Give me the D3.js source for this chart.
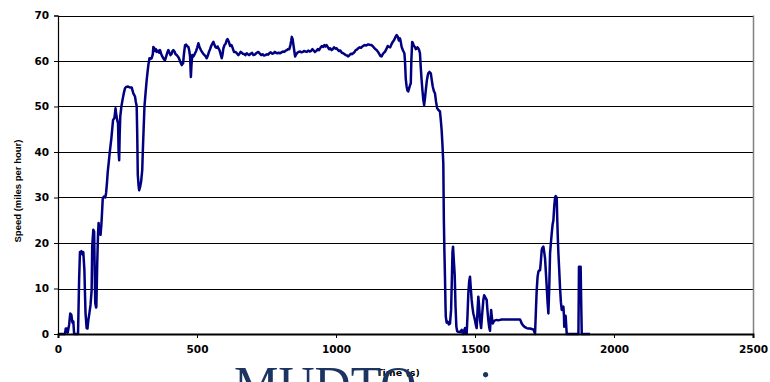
<!DOCTYPE html>
<html>
<head>
<meta charset="utf-8">
<script src="https://cdn.jsdelivr.net/npm/d3@7"></script>
<style>
  html, body { margin: 0; padding: 0; background: #fff; }
  svg { display: block; }
</style>
</head>
<body>
<svg id="chart" width="770" height="382"></svg>
<script>
// ---- data ----
const timeS = [0,25,28,32,35,40,44,48,52,55,58,72,76,79,84,88,91,95,97,99,103,106,109,113,117,121,123,127,130,132,134,137,138,141,144,146,149,153,156,158,161,165,170,173,176,179,183,187,192,198,203,207,210,213,216,218,220,222,224,228,232,237,241,245,252,258,265,271,277,280,283,285,287,290,292,296,299,303,305,308,311,315,319,322,325,329,333,337,341,343,346,349,352,355,360,364,367,371,375,379,382,385,390,393,397,401,405,409,412,415,419,423,427,431,435,440,445,448,450,453,457,461,465,469,472,475,478,480,483,487,490,493,497,501,505,509,514,518,522,527,531,535,539,543,547,551,555,559,563,567,571,574,577,581,585,589,592,595,599,603,607,610,614,619,624,628,633,637,642,646,649,653,657,661,665,670,674,679,683,688,693,698,703,708,713,717,721,726,731,736,741,746,751,756,760,765,770,775,780,784,789,794,799,804,809,814,819,823,828,832,836,839,841,844,847,850,853,857,861,866,871,876,881,885,890,895,900,905,910,915,920,924,929,934,939,944,949,954,958,962,966,970,975,979,984,988,993,998,1002,1007,1011,1016,1021,1026,1031,1035,1040,1044,1049,1053,1057,1062,1067,1071,1075,1080,1085,1090,1095,1100,1104,1109,1114,1119,1124,1128,1133,1137,1142,1146,1150,1155,1160,1164,1168,1172,1176,1181,1186,1190,1195,1199,1204,1209,1214,1218,1222,1226,1230,1233,1236,1241,1246,1248,1251,1254,1257,1260,1263,1266,1269,1271,1274,1277,1280,1284,1287,1290,1293,1296,1299,1302,1305,1308,1311,1314,1317,1320,1323,1327,1330,1332,1336,1341,1344,1348,1352,1356,1360,1364,1369,1374,1377,1380,1383,1386,1388,1390,1392,1394,1395,1398,1402,1406,1410,1414,1417,1419,1421,1424,1427,1430,1433,1436,1440,1445,1449,1452,1455,1458,1461,1464,1467,1470,1473,1476,1479,1482,1485,1488,1491,1494,1497,1500,1503,1506,1509,1512,1515,1518,1522,1526,1530,1533,1536,1539,1542,1545,1548,1551,1554,1556,1558,1561,1564,1568,1572,1578,1584,1590,1596,1602,1608,1614,1626,1638,1650,1662,1665,1668,1674,1680,1686,1692,1698,1704,1710,1713,1716,1719,1722,1725,1728,1731,1734,1737,1740,1743,1746,1749,1752,1755,1758,1761,1764,1767,1770,1773,1776,1779,1782,1785,1788,1790,1792,1794,1796,1798,1800,1803,1806,1809,1812,1815,1818,1820,1821,1823,1826,1828,1830,1850,1872,1873,1874,1877,1880,1882,1884,1914];
const speedMph = [0,0,1.2,1.2,0.3,2,4.5,4.2,2.5,2.8,0,0,12,18,18.2,17.5,18,14,9,4.6,1.3,1.2,3,4.6,6.4,9.6,19.2,22.9,22.5,14,6.8,5.8,6,15.2,22,24.4,22.5,21.8,24,26.2,29.8,30.2,30,31,33.1,35.7,38,40.4,43,47,47.5,49.6,48,47,46.3,40,38.2,44,47.8,50,51.4,53,54,54.3,54.4,54.2,54.2,52.9,52.2,51,50.1,44,35,32.5,31.6,32.5,33.5,36,40,45,50,53,55.8,57.5,59.1,60.6,60.5,60.6,61.5,63.1,62.8,62.2,62.6,62,62.3,61.8,62.4,61.6,61,60.6,60.3,60.2,61.2,61.8,62.4,61.8,61.3,61.6,62.2,62.4,62.1,61.5,61.3,61,60.6,59.8,59.1,59.4,59.5,61.5,63.5,63.6,63.2,63.1,62.3,61,56.5,59,61.3,61,61.3,61.7,62.2,63,63.9,63.1,62.4,62,61.6,61.3,61,60.6,61.2,62,62.6,63.3,63.8,64.2,63.5,63,62.9,63.2,62.8,62.4,61.5,60.6,61.5,62.8,63.5,63.8,64.6,64.8,64.3,63.3,63.5,62.9,62,62,61.8,61.5,61.3,61.6,62,61.8,61.6,61.5,61.3,61.7,61.5,61.3,61.6,61.8,61.3,61.4,61.7,61.9,62,61.6,61.3,61.5,61.2,61.3,61.5,61.4,61.7,61.9,61.6,61.7,62,61.8,61.7,61.8,61.7,61.9,62.1,62,62.3,62.4,62.6,62.6,63.5,64.5,65.3,64.8,63.5,62.2,61,61.5,61.8,62,62.1,61.9,62,62.2,62.1,62,62.3,62.1,62.2,62.6,62.3,62,62.2,62.6,62.4,62.9,63.3,63.1,63.5,63.2,63.5,63.1,62.6,62.8,62.4,62.6,63,62.7,62.8,62.4,62.2,62.3,61.8,61.7,61.5,61.3,61.2,61,61.3,61.6,61.5,61.7,62,62.4,62.5,62.8,63,62.9,63.2,63.4,63.5,63.4,63.6,63.6,63.5,63.5,63.2,62.9,62.6,62.4,62.1,61.6,61.1,61,61.5,61.8,62,62.6,63.3,63.1,63,63.6,64.2,64.6,65.3,65.7,65.4,64.5,65,64.2,63.1,62.3,61.7,60.2,56,54.4,53.5,53.3,54,54.6,55.1,60,64.2,63.9,63.3,63.1,62.6,62.7,63,62.8,62.4,61.7,58.5,55.8,53.5,51.5,50.3,51.8,53.6,55.8,56.8,57.3,57.6,57.3,56,54.4,53.4,52.9,51,49.6,49.2,48.9,47,44.8,41.5,37.5,25,18,12.6,6,3.8,2.5,2.7,2.1,2.3,5.3,12.6,18,19.2,16,13,6,1.6,0.6,0.5,0.4,0.6,0.9,0.3,0,0.8,1.3,0.2,0,4,8.9,11.5,12.6,10,7.5,5.8,4.5,3.8,3,2,1.3,5,8.2,6,3,1.3,4.5,7.5,8.5,8.2,7.8,7.5,5,3,1.5,0.7,3,5.3,3.5,2.3,2.8,3,3.1,3,3.1,3.2,3.2,3.2,3.2,3.2,3.2,3.2,3.2,2.8,2.3,1.8,1.5,1.3,1.2,1.2,1.1,1,0.6,0,5,9.7,12.5,13.7,14,14,16,18.5,19,19.2,18,16.6,13.5,10.4,7,4.5,10,17.7,20,22.1,24,25,28,30,30.3,30.2,29.8,25,21,17.7,14,10,7,5.3,5.8,6,4,1.6,3,4,2,0,0,0,7,14.8,14.8,14.8,7,0,0];
const yTicks = [0,10,20,30,40,50,60,70];
const xTicks = [0,500,1000,1500,2000,2500];
const yTitle = "Speed (miles per hour)";
const xTitle = "Time (s)";
const watermark = "MUDTO";
const watermark2 = "i";

// ---- drawing ----
const svg = d3.select("#chart");
const x = d3.scaleLinear().domain([0, 2500]).range([58, 753]);
const y = d3.scaleLinear().domain([0, 70]).range([334, 15.5]);

// gridlines
svg.append("g").selectAll("line").data(yTicks.filter(d => d > 0)).join("line")
  .attr("x1", x(0)).attr("x2", x(2500))
  .attr("y1", d => Math.round(y(d)) + 0.5).attr("y2", d => Math.round(y(d)) + 0.5)
  .attr("stroke", "#000").attr("stroke-width", 1);

// right border
svg.append("line")
  .attr("x1", x(2500) + 0.5).attr("x2", x(2500) + 0.5)
  .attr("y1", y(70)).attr("y2", y(0))
  .attr("stroke", "#808080").attr("stroke-width", 1.5);

// line
const line = d3.line().x((d, i) => x(timeS[i])).y(d => y(d));
svg.append("path").datum(speedMph)
  .attr("d", line)
  .attr("fill", "none")
  .attr("stroke", "#000080")
  .attr("stroke-width", 2.5)
  .attr("stroke-linejoin", "round");

// axes
const yAxis = d3.axisLeft(y).tickValues(yTicks).tickSize(4).tickPadding(5).tickFormat(d3.format("d"));
const gy = svg.append("g").attr("transform", `translate(${x(0)},0)`).call(yAxis);
gy.select(".domain").attr("stroke", "#000").attr("stroke-width", 1.2);
gy.selectAll(".tick line").attr("stroke", "#000");
gy.selectAll("text").attr("font-family", "DejaVu Sans").attr("font-weight", "bold")
  .attr("font-size", "10.5px").attr("fill", "#000");

const xAxis = d3.axisBottom(x).tickValues(xTicks).tickSize(4).tickPadding(8).tickFormat(d3.format("d"));
const gx = svg.append("g").attr("transform", `translate(0,${y(0)})`).call(xAxis);
gx.select(".domain").attr("stroke", "#000").attr("stroke-width", 2);
gx.selectAll(".tick line").attr("stroke", "#000");
gx.selectAll("text").attr("font-family", "DejaVu Sans").attr("font-weight", "bold")
  .attr("font-size", "10.5px").attr("fill", "#000");

// titles
svg.append("text")
  .attr("transform", "translate(21,191) rotate(-90)")
  .attr("text-anchor", "middle")
  .attr("font-family", "Liberation Sans, Arial").attr("font-weight", "bold")
  .attr("font-size", "9.5px").attr("fill", "#000")
  .text(yTitle);

svg.append("text")
  .attr("x", 398).attr("y", 375.5)
  .attr("text-anchor", "middle")
  .attr("font-family", "DejaVu Sans").attr("font-weight", "bold")
  .attr("font-size", "9.5px").attr("fill", "#000")
  .text(xTitle);

// partially visible overlay text at the bottom
svg.append("text")
  .attr("x", 234).attr("y", 401)
  .attr("font-family", "Liberation Serif, Times New Roman, serif")
  .attr("font-size", "50px").attr("fill", "#1c3560")
  .text(watermark);
svg.append("text")
  .attr("x", 479).attr("y", 405)
  .attr("font-family", "Liberation Serif, Times New Roman, serif")
  .attr("font-size", "50px").attr("fill", "#1c3560")
  .text(watermark2);
</script>
</body>
</html>
